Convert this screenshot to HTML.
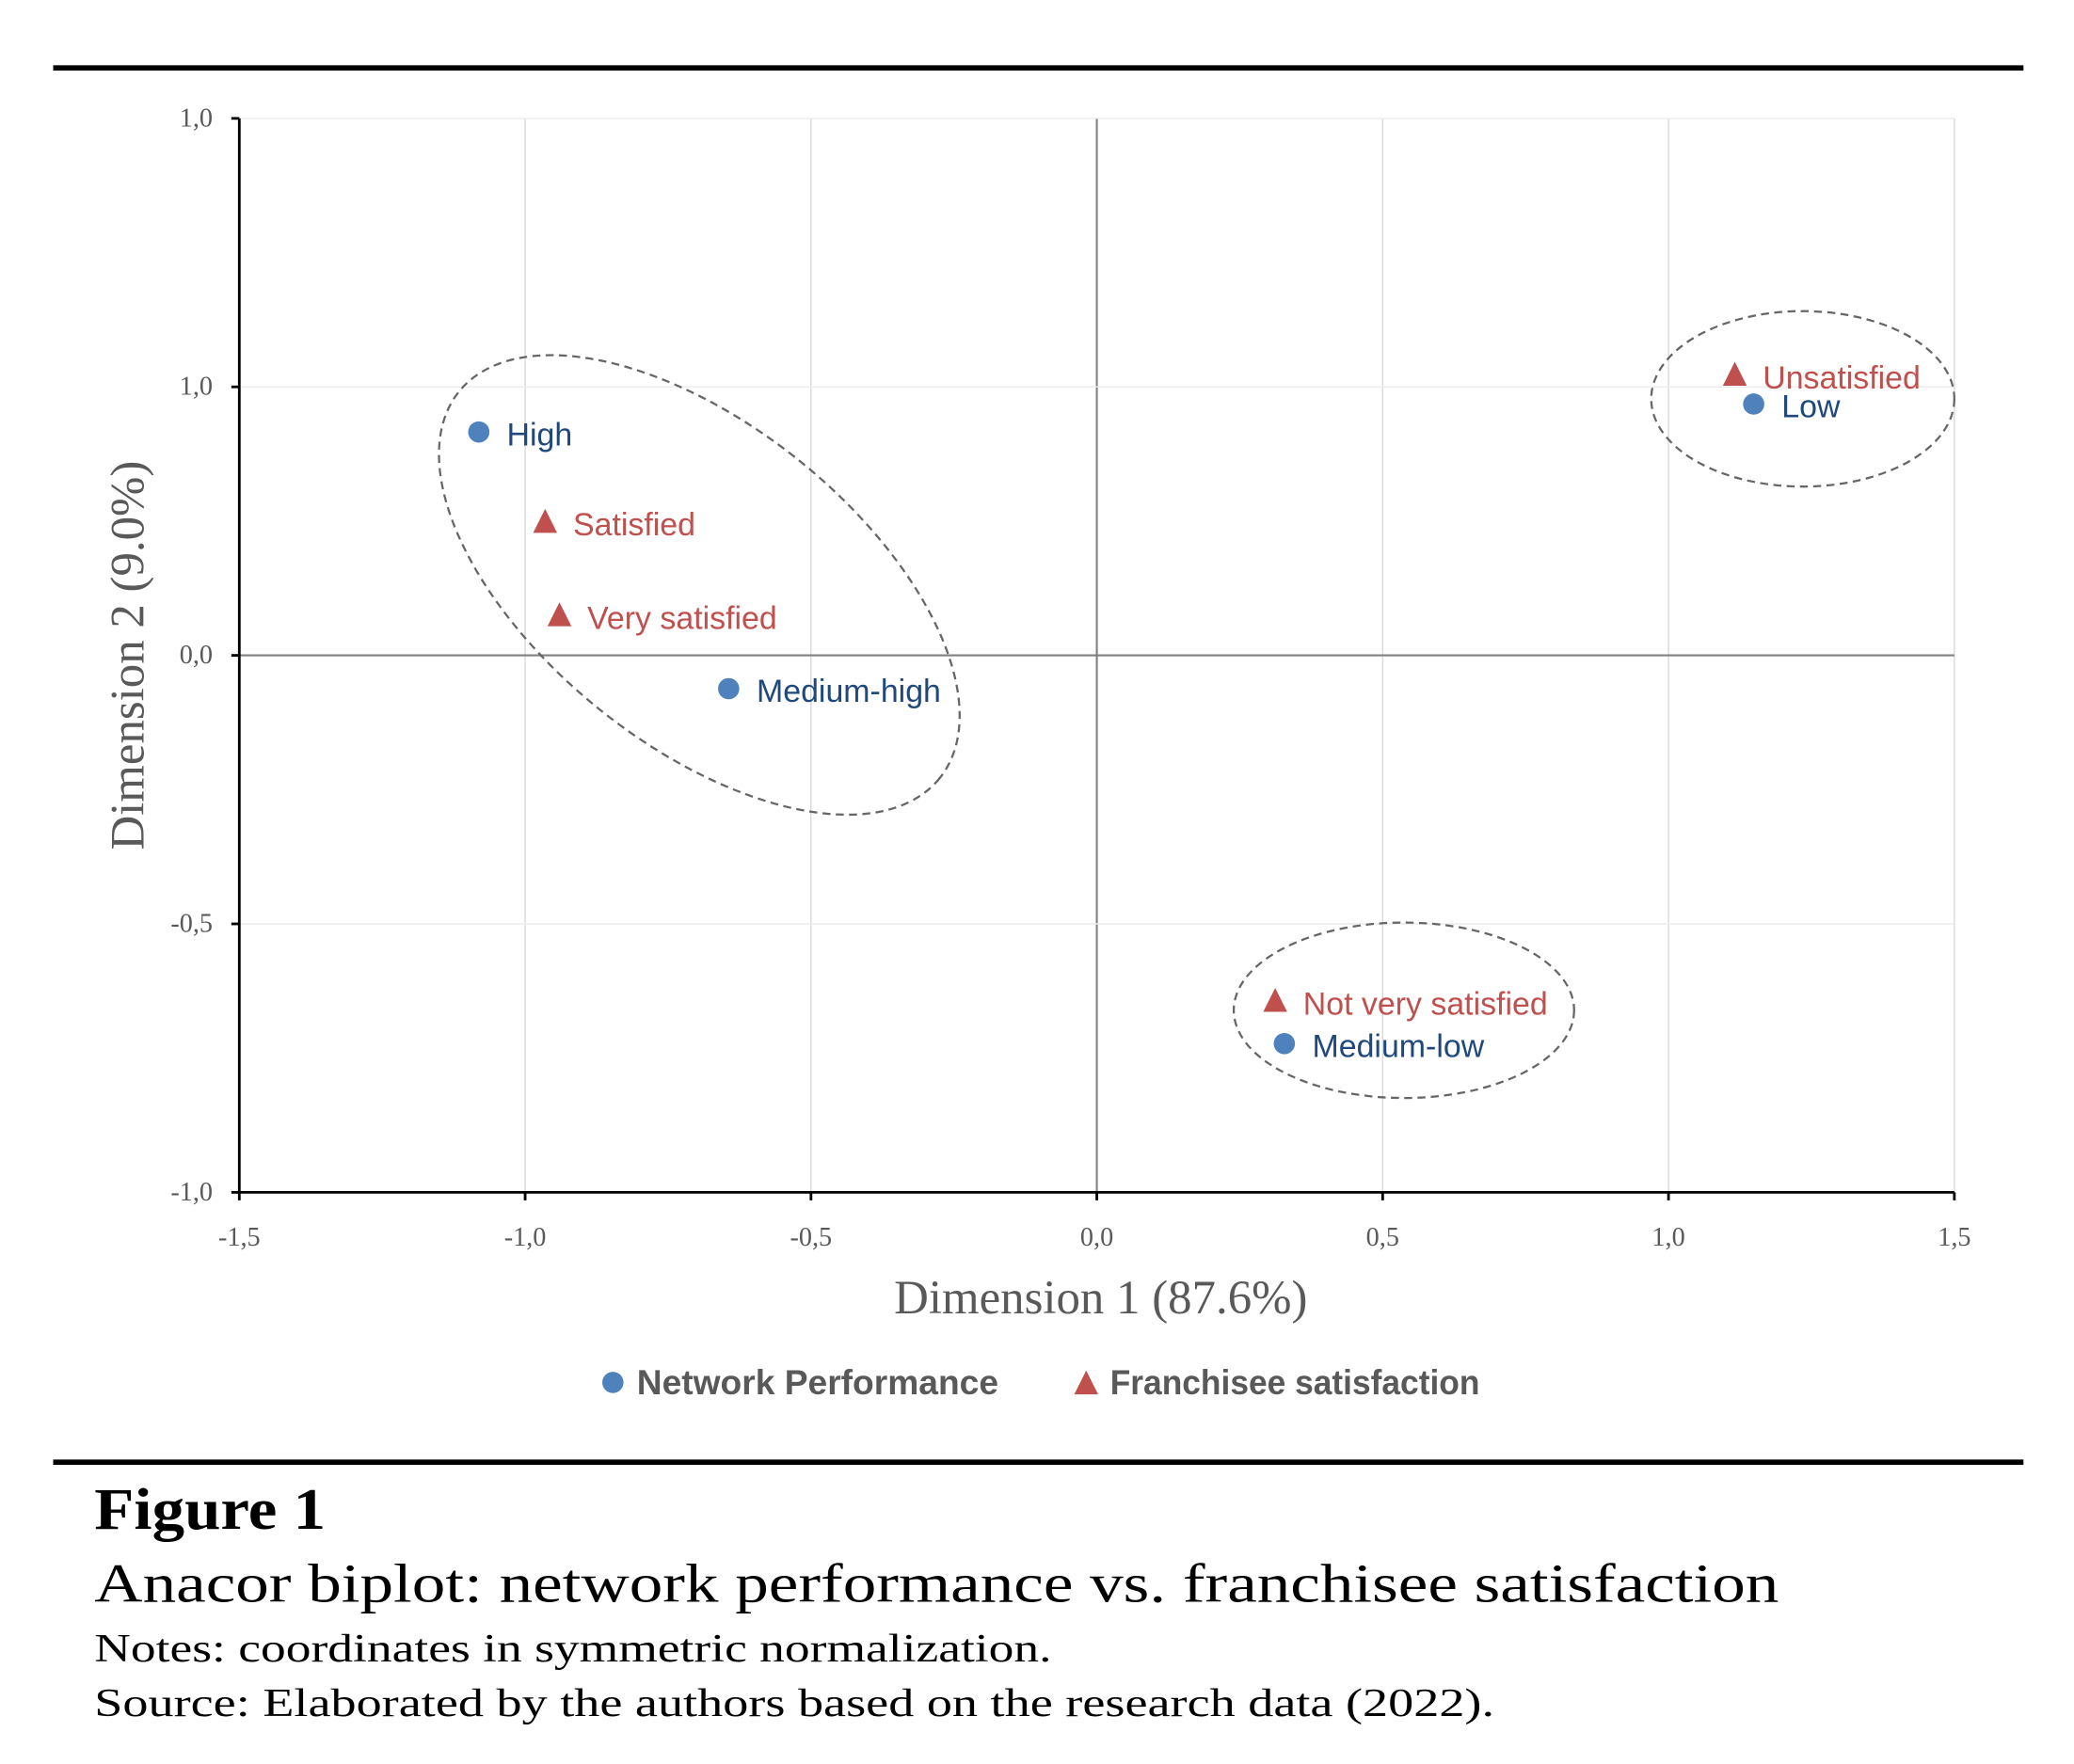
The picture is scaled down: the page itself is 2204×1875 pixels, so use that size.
<!DOCTYPE html>
<html><head><meta charset="utf-8"><style>
html,body{margin:0;padding:0;background:#fff;}
svg{display:block;}
</style></head><body>
<svg id="chart" width="2204" height="1875" viewBox="0 0 1560 1327" xmlns="http://www.w3.org/2000/svg">
<rect x="0" y="0" width="1560" height="1327" fill="#fff"/>
<line x1="40" y1="51" x2="1522" y2="51" stroke="#000" stroke-width="4"/>
<g id="grid"></g>
<g id="ellipses" fill="none" stroke="#666" stroke-width="1.6" stroke-dasharray="6,4">
<ellipse cx="526" cy="440" rx="232" ry="120" transform="rotate(38.8 526 440)"/>
<ellipse cx="1356" cy="300" rx="114" ry="66"/>
<ellipse cx="1056" cy="760" rx="128" ry="66"/>
</g>
<g id="marks"></g>
<text x="828" y="988" text-anchor="middle" font-family="Liberation Serif, serif" font-size="36" fill="#595959">Dimension 1 (87.6%)</text>
<text transform="translate(108 493) rotate(-90)" text-anchor="middle" font-family="Liberation Serif, serif" font-size="36" fill="#595959">Dimension 2 (9.0%)</text>
<g font-family="Liberation Sans, sans-serif" font-size="26" font-weight="bold" fill="#595959">
<circle cx="461" cy="1040" r="8" fill="#4F81BD"/>
<text x="479" y="1049" textLength="272" lengthAdjust="spacingAndGlyphs">Network Performance</text>
<polygon points="817,1031 826,1049 808,1049" fill="#C0504D"/>
<text x="835" y="1049" textLength="278" lengthAdjust="spacingAndGlyphs">Franchisee satisfaction</text>
</g>
<line x1="40" y1="1100" x2="1522" y2="1100" stroke="#000" stroke-width="4"/>
<g font-family="Liberation Serif, serif" fill="#000">
<text x="71" y="1150" font-size="44" font-weight="bold" textLength="174" lengthAdjust="spacingAndGlyphs">Figure 1</text>
<text x="71" y="1205" font-size="41" textLength="1267" lengthAdjust="spacingAndGlyphs">Anacor biplot: network performance vs. franchisee satisfaction</text>
<text x="71" y="1250" font-size="30" textLength="720" lengthAdjust="spacingAndGlyphs">Notes: coordinates in symmetric normalization.</text>
<text x="71" y="1291" font-size="30" textLength="1053" lengthAdjust="spacingAndGlyphs">Source: Elaborated by the authors based on the research data (2022).</text>
</g>
</svg>
<script>
const xTickValues=[-1.5,-1.0,-0.5,0,0.5,1.0,1.5];
const xTickLabels=["-1,5","-1,0","-0,5","0,0","0,5","1,0","1,5"];
const yTickValues=[-1.0,-0.5,0,0.5,1.0];
const yTickLabels=["-1,0","-0,5","0,0","1,0","1,0"];
const perfLabels=["High","Medium-high","Low","Medium-low"];
const perfX=[-1.081,-0.644,1.149,0.328];
const perfY=[0.416,-0.062,0.468,-0.723];
const satLabels=["Satisfied","Very satisfied","Unsatisfied","Not very satisfied"];
const satX=[-0.965,-0.94,1.116,0.312];
const satY=[0.248,0.074,0.522,-0.644];

const NS="http://www.w3.org/2000/svg";
const L=180,R=1470,T=89,B=897;
const sx=v=>L+(v+1.5)/3*(R-L);
const sy=v=>B-(v+1)/2*(B-T);
function mk(tag,attrs,parent){const e=document.createElementNS(NS,tag);for(const k in attrs)e.setAttribute(k,attrs[k]);parent.appendChild(e);return e;}
const grid=document.getElementById('grid');
const marks=document.getElementById('marks');
xTickValues.forEach((v,i)=>{
  const x=sx(v);
  const g=mk('line',{x1:x,y1:T,x2:x,y2:B,stroke:v===0?'#808080':'#d9d9d9','stroke-width':v===0?1.5:1},grid);
  
  
  const t=mk('line',{x1:x,y1:B,x2:x,y2:B+6,stroke:'#000','stroke-width':2},grid);
  
  
  const lb=mk('text',{x:x,y:B+40,'text-anchor':'middle','font-family':'Liberation Serif, serif','font-size':20,fill:'#595959'},grid);
  lb.textContent=xTickLabels[i];
  
  
});
yTickValues.forEach((v,i)=>{
  const y=sy(v);
  const g=mk('line',{x1:L,y1:y,x2:R,y2:y,stroke:v===0?'#808080':'#ececec','stroke-width':v===0?1.5:1},grid);
  
  
  const t=mk('line',{x1:L-6,y1:y,x2:L,y2:y,stroke:'#000','stroke-width':2},grid);
  
  
  const lb=mk('text',{x:L-20,y:y+6,'text-anchor':'end','font-family':'Liberation Serif, serif','font-size':20,fill:'#595959'},grid);
  lb.textContent=yTickLabels[i];
  
  
});
const ya=mk('line',{x1:L,y1:T,x2:L,y2:B+1,stroke:'#000','stroke-width':2},grid);


const xa=mk('line',{x1:L-1,y1:B,x2:R,y2:B,stroke:'#000','stroke-width':2},grid);



perfLabels.forEach((lab,i)=>{
  const x=sx(perfX[i]),y=sy(perfY[i]);
  const c=mk('circle',{cx:x,cy:y,r:8,fill:'#4F81BD'},marks);
  
  
  const t=mk('text',{x:x+21,y:y+10,'font-family':'Liberation Sans, sans-serif','font-size':24,fill:'#1F497D'},marks);
  t.textContent=lab;
  
  
});
satLabels.forEach((lab,i)=>{
  const x=sx(satX[i]),y=sy(satY[i]);
  const p=mk('polygon',{points:`${x},${y-10} ${x+9},${y+8} ${x-9},${y+8}`,fill:'#C0504D'},marks);
  
  
  const t=mk('text',{x:x+21,y:y+10,'font-family':'Liberation Sans, sans-serif','font-size':24,fill:'#C0504D'},marks);
  t.textContent=lab;
  
  
});
</script>
</body></html>
